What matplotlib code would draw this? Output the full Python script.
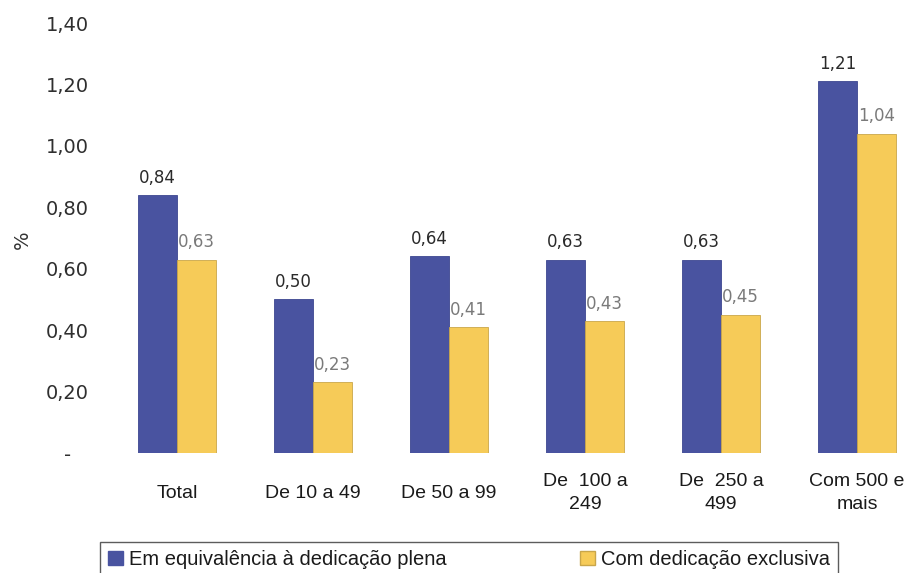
import matplotlib
matplotlib.use("Agg")
import matplotlib.pyplot as plt
import numpy as np
from matplotlib.patches import Patch

categories = ["Total", "De 10 a 49", "De 50 a 99", "De  100 a\n249", "De  250 a\n499", "Com 500 e\nmais"]
plena = [0.84, 0.50, 0.64, 0.63, 0.63, 1.21]
exclusiva = [0.63, 0.23, 0.41, 0.43, 0.45, 1.04]
yticks = [0, 0.2, 0.4, 0.6, 0.8, 1.0, 1.2, 1.4]
ytick_labels = ["-", "0,20", "0,40", "0,60", "0,80", "1,00", "1,20", "1,40"]
series_names = ["Em equivalência à dedicação plena", "Com dedicação exclusiva"]

blue = "#4953a0"
yellow = "#f6cb58"
W, H = 912, 573

fig = plt.figure(figsize=(W / 100, H / 100), dpi=100)
ax = fig.add_axes([95 / W, 120 / H, (W - 95) / W, 436 / H])

x = np.arange(len(categories))
bw = 0.29
b1 = ax.bar(x - bw / 2, plena, bw, color=blue, edgecolor="#3d4690", linewidth=0.6)
b2 = ax.bar(x + bw / 2, exclusiva, bw, color=yellow, edgecolor="#c9a64a", linewidth=0.6)

fmt = lambda v: f"{v:.2f}".replace(".", ",")
ax.bar_label(b1, labels=[fmt(v) for v in plena], padding=6, fontsize=12,
             color="#2a2a2a", family="DejaVu Sans")
ax.bar_label(b2, labels=[fmt(v) for v in exclusiva], padding=6, fontsize=12,
             color="#7a7a7a", family="DejaVu Sans")

# x range so that groups land where they sit in the original
ax.set_xlim(-82 / 136, (W - 177) / 136)
ax.set_ylim(0, 1.42)

ax.set_yticks(yticks)
ax.set_yticklabels(ytick_labels, fontsize=14, color="#2f2f2f", family="DejaVu Sans")
for lab in ax.get_yticklabels():
    lab.set_horizontalalignment("center")
ax.tick_params(axis="y", length=0, pad=20)

ax.set_xticks(x)
ax.set_xticklabels(categories, fontsize=14, color="#1a1a1a", family="Liberation Sans",
                   linespacing=1.45)
for lab in ax.get_xticklabels():
    lab.set_verticalalignment("center")
ax.tick_params(axis="x", length=0, pad=29)

for s in ax.spines.values():
    s.set_visible(False)

fig.text(22 / W, 1 - 240 / H, "%", rotation=90, fontsize=14, color="#333333",
         ha="center", va="center", family="DejaVu Sans")

handles = [Patch(facecolor=blue, edgecolor=blue), Patch(facecolor=yellow, edgecolor="#c9a64a")]
leg = fig.legend(handles, series_names, loc="upper left", ncol=2, mode="expand",
                 bbox_to_anchor=(100 / W, 1 - 542 / H, (838 - 100) / W, 0),
                 prop={"family": "Liberation Sans", "size": 14.5},
                 handlelength=0.75, handleheight=0.75, handletextpad=0.3,
                 borderaxespad=0, borderpad=0.4, frameon=True, fancybox=False)
leg.get_frame().set_edgecolor("#333333")
leg.get_frame().set_linewidth(1.0)
for t in leg.get_texts():
    t.set_color("#1a1a1a")

fig.savefig("out.png", dpi=100)
